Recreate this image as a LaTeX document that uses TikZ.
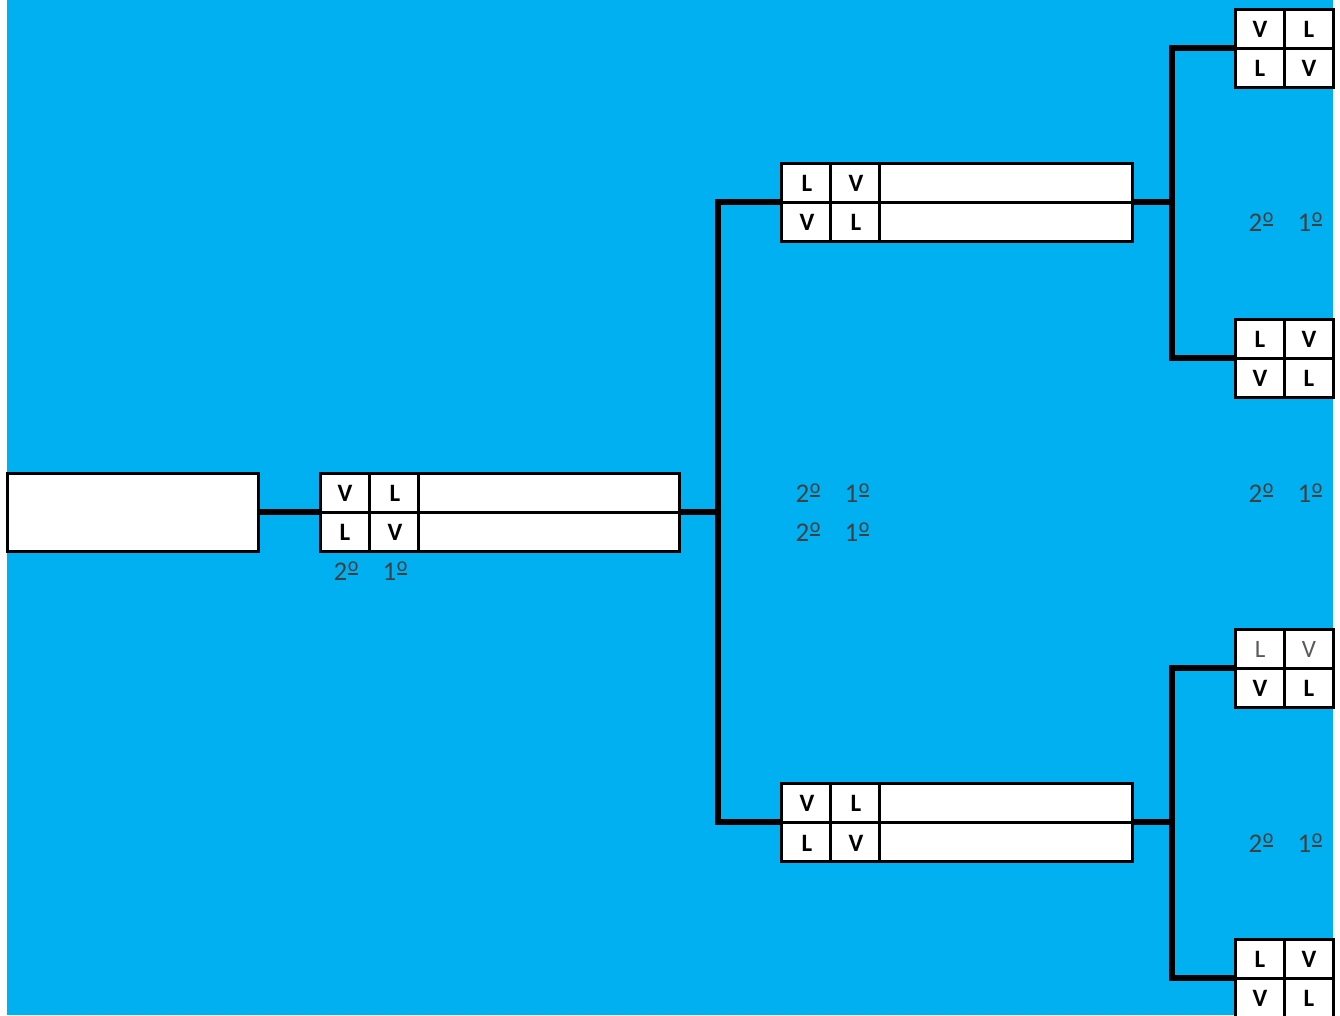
\documentclass[tikz,border=0pt]{standalone}
\usepackage{fontspec}
\setmainfont{Carlito}
\definecolor{bg}{HTML}{00B0F0}
\definecolor{lab}{HTML}{404040}
\definecolor{soft}{HTML}{5A5A5A}
\newcommand\ordmk{\kern0.5pt\raisebox{5.5pt}{\rlap{\rule{10pt}{1.4pt}}}\raisebox{9pt}{\fontsize{20}{20}\selectfont o}}
\begin{document}
\begin{tikzpicture}[x=1pt,y=-1pt,
  box/.style={draw=black,fill=white,line width=3pt,anchor=north west,inner sep=0pt,outer sep=0pt,minimum height=78pt},
  divl/.style={line width=3pt},
  conn/.style={line width=6pt},
  let/.style={font=\fontsize{25}{25}\selectfont\bfseries,text=black,inner sep=0pt},
  lets/.style={font=\fontsize{25}{25}\selectfont,text=soft,inner sep=0pt},
  ord/.style={font=\fontsize{27}{27}\selectfont,text=lab,inner sep=0pt}]
\useasboundingbox (0,0) rectangle (1340,1015);
\fill[white] (0,0) rectangle (1340,1015);
\fill[bg] (7,0) rectangle (1333,1015);
% boxes
\node[box,minimum width=251pt] (b0) at (7,473) {};
\node[box,minimum width=359pt] (b1) at (320,473) {};
\node[box,minimum width=351pt] (b2a) at (781,163) {};
\node[box,minimum width=351pt] (b2b) at (781,783) {};
\node[box,minimum width=98pt] (b3a) at (1235,9) {};
\node[box,minimum width=98pt] (b3b) at (1235,319) {};
\node[box,minimum width=98pt] (b3c) at (1235,629) {};
\node[box,minimum width=98pt] (b3d) at (1235,939) {};
% dividers
\foreach \b in {b1,b2a,b2b,b3a,b3b,b3c,b3d}{
  \draw[divl] (\b.west) -- (\b.east);
  \draw[divl] (\b.north west) ++(49,0) -- ++(0,78);
}
\foreach \b in {b1,b2a,b2b}{
  \draw[divl] (\b.north west) ++(98,0) -- ++(0,78);
}
% junction coordinates
\coordinate (j1) at (718,512);
\coordinate (j2) at (1172,202);
\coordinate (j3) at (1172,822);
% connectors
\draw[conn] (b0.east) -- (b1.west);
\draw[conn] (b1.east) -- (j1);
\draw[conn] (b2a.west) -| (j1) |- (b2b.west);
\draw[conn] (b2a.east) -- (j2);
\draw[conn] (b3a.west) -| (j2) |- (b3b.west);
\draw[conn] (b2b.east) -- (j3);
\draw[conn] (b3c.west) -| (j3) |- (b3d.west);
% letters
\node[let] (l1a) at (345,493) {V}; \node[let] (l1b) at (395,493) {L};
\node[let] (l1c) at (345,532) {L}; \node[let] (l1d) at (395,532) {V};
\node[let] (l2a) at (807,183) {L}; \node[let] (l2b) at (856,183) {V};
\node[let] (l2c) at (807,222) {V}; \node[let] (l2d) at (856,222) {L};
\node[let] (l3a) at (807,803) {V}; \node[let] (l3b) at (856,803) {L};
\node[let] (l3c) at (807,843) {L}; \node[let] (l3d) at (856,843) {V};
\node[let] (l4a) at (1260,29) {V}; \node[let] (l4b) at (1309,29) {L};
\node[let] (l4c) at (1260,68) {L}; \node[let] (l4d) at (1309,68) {V};
\node[let] (l5a) at (1260,339) {L}; \node[let] (l5b) at (1309,339) {V};
\node[let] (l5c) at (1260,378) {V}; \node[let] (l5d) at (1309,378) {L};
\node[lets] (l6a) at (1260,649) {L}; \node[lets] (l6b) at (1309,649) {V};
\node[let] (l6c) at (1260,688) {V}; \node[let] (l6d) at (1309,688) {L};
\node[let] (l7a) at (1260,959) {L}; \node[let] (l7b) at (1309,959) {V};
\node[let] (l7c) at (1260,998) {V}; \node[let] (l7d) at (1309,998) {L};
% ordinal labels
\node[ord] (o1a) at (346,571) {2\ordmk}; \node[ord] (o1b) at (395,571) {1\ordmk};
\node[ord] (o2a) at (808,493) {2\ordmk}; \node[ord] (o2b) at (857,493) {1\ordmk};
\node[ord] (o3a) at (808,532) {2\ordmk}; \node[ord] (o3b) at (857,532) {1\ordmk};
\node[ord] (o4a) at (1261,222) {2\ordmk}; \node[ord] (o4b) at (1310,222) {1\ordmk};
\node[ord] (o5a) at (1261,493) {2\ordmk}; \node[ord] (o5b) at (1310,493) {1\ordmk};
\node[ord] (o6a) at (1261,843) {2\ordmk}; \node[ord] (o6b) at (1310,843) {1\ordmk};
\end{tikzpicture}
\end{document}
